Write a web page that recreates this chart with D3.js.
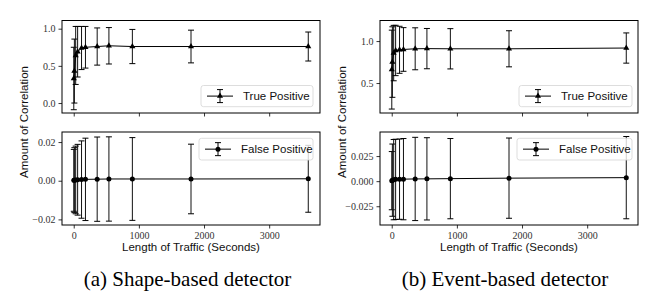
<!DOCTYPE html>
<html><head><meta charset="utf-8">
<script src="https://cdn.jsdelivr.net/npm/d3@7"></script>
<style>body{margin:0;background:#fff}svg{display:block}</style>
</head><body>
<svg id="c" width="660" height="300"></svg>
<script>
const lengths = [1, 10, 30, 60, 120, 180, 360, 540, 900, 1800, 3600];
const shapeTP = [0.33, 0.43, 0.64, 0.69, 0.74, 0.75, 0.76, 0.77, 0.76, 0.76, 0.76];
const shapeTPErr = [0.42, 0.43, 0.39, 0.34, 0.29, 0.28, 0.25, 0.245, 0.23, 0.22, 0.195];
const shapeFP = [0.0002, 0.0003, 0.0004, 0.0005, 0.0006, 0.0007, 0.0008, 0.0009, 0.0009, 0.0009, 0.0010];
const shapeFPErr = [0.016, 0.0168, 0.0175, 0.0183, 0.020, 0.0213, 0.0218, 0.0218, 0.0214, 0.018, 0.0173];
const eventTP = [0.66, 0.75, 0.857, 0.888, 0.896, 0.90, 0.908, 0.91, 0.908, 0.908, 0.917];
const eventTPErr = [0.47, 0.42, 0.33, 0.30, 0.28, 0.26, 0.25, 0.24, 0.24, 0.215, 0.18];
const eventFP = [0.0005, 0.001, 0.0015, 0.0018, 0.002, 0.002, 0.0022, 0.0023, 0.0025, 0.003, 0.0035];
const eventFPErr = [0.029, 0.036, 0.040, 0.040, 0.040, 0.0405, 0.0415, 0.041, 0.040, 0.040, 0.041];
const xTicks = [0, 1000, 2000, 3000];
const shapeTPTicks = [0.0, 0.5, 1.0];
const shapeFPTicks = [-0.02, 0.00, 0.02];
const eventTPTicks = [0.5, 1.0];
const eventFPTicks = [-0.025, 0.000, 0.025];
const captions = ["(a) Shape-based detector", "(b) Event-based detector"];
const legendLabels = ["True Positive", "False Positive"];
const xLabel = "Length of Traffic (Seconds)";
const yLabel = "Amount of Correlation";

const svg = d3.select("#c");
const SERIF = "'Liberation Serif','DejaVu Serif',serif";
const SANS = "'Liberation Sans','DejaVu Sans',sans-serif";
const minus = s => s.replace("-", "\u2212");

function marker(g, type, x, y) {
  if (type === "tri") {
    g.append("path").attr("d", d3.symbol(d3.symbolTriangle, 16)()).attr("transform", `translate(${x},${y})`).attr("fill", "#000");
  } else {
    g.append("circle").attr("cx", x).attr("cy", y).attr("r", 2.5).attr("fill", "#000");
  }
}

function panel(o) {
  const g = svg.append("g");
  const x = d3.scaleLinear().domain([-180, 3780]).range([o.x0, o.x1]);
  const y = d3.scaleLinear().domain(o.yDom).range([o.y1, o.y0]);
  const ay = g.append("g").attr("transform", `translate(${o.x0},0)`)
    .call(d3.axisLeft(y).tickValues(o.yTicks).tickSize(3.5).tickPadding(3).tickFormat(v => minus(d3.format(o.fmt)(v))));
  const ax = g.append("g").attr("transform", `translate(0,${o.y1})`)
    .call(d3.axisBottom(x).tickValues(xTicks).tickSize(3.5).tickPadding(3).tickFormat(o.showX ? d3.format("d") : ""));
  [ay, ax].forEach(a => {
    a.select(".domain").remove();
    a.selectAll("line").attr("stroke", "#000").attr("stroke-width", 0.8);
    a.selectAll("text").attr("font-family", SERIF).attr("font-size", 10).attr("fill", "#333");
  });
  const clip = "clip" + Math.random().toString(36).slice(2);
  g.append("clipPath").attr("id", clip).append("rect").attr("x", o.x0).attr("y", o.y0).attr("width", o.x1 - o.x0).attr("height", o.y1 - o.y0);
  const pg = g.append("g").attr("clip-path", `url(#${clip})`);
  lengths.forEach((L, i) => {
    const cx = x(L), lo = y(o.vals[i] - o.err[i]), hi = y(o.vals[i] + o.err[i]);
    pg.append("line").attr("x1", cx).attr("x2", cx).attr("y1", lo).attr("y2", hi).attr("stroke", "#111").attr("stroke-width", 1);
    [lo, hi].forEach(yy => pg.append("line").attr("x1", cx - 3).attr("x2", cx + 3).attr("y1", yy).attr("y2", yy).attr("stroke", "#000").attr("stroke-width", 1));
  });
  pg.append("path").datum(lengths.map((L, i) => [x(L), y(o.vals[i])]))
    .attr("d", d3.line()).attr("fill", "none").attr("stroke", "#000").attr("stroke-width", 1);
  lengths.forEach((L, i) => marker(pg, o.mark, x(L), y(o.vals[i])));
  g.append("rect").attr("x", o.x0).attr("y", o.y0).attr("width", o.x1 - o.x0).attr("height", o.y1 - o.y0)
    .attr("fill", "none").attr("stroke", "#000").attr("stroke-width", 1);
  const lg = o.leg;
  g.append("rect").attr("x", lg.x0).attr("y", lg.y0).attr("width", lg.x1 - lg.x0).attr("height", lg.y1 - lg.y0)
    .attr("rx", 2.5).attr("fill", "#fff").attr("fill-opacity", 0.8).attr("stroke", "#d4d4d4").attr("stroke-width", 0.8);
  const cy = (lg.y0 + lg.y1) / 2, hx = lg.x0 + 6, hw = 26, mx = hx + hw / 2;
  g.append("line").attr("x1", hx).attr("x2", hx + hw).attr("y1", cy).attr("y2", cy).attr("stroke", "#000").attr("stroke-width", 1);
  g.append("line").attr("x1", mx).attr("x2", mx).attr("y1", cy - 6.5).attr("y2", cy + 6.5).attr("stroke", "#000").attr("stroke-width", 1);
  [cy - 6.5, cy + 6.5].forEach(yy => g.append("line").attr("x1", mx - 3).attr("x2", mx + 3).attr("y1", yy).attr("y2", yy).attr("stroke", "#000").attr("stroke-width", 1));
  marker(g, o.mark, mx, cy);
  g.append("text").attr("x", hx + hw + 10).attr("y", cy + 4).attr("font-family", SANS).attr("font-size", 11.5).attr("fill", "#111").text(lg.label);
  return {x, y};
}

const layouts = [
  {x0: 62, x1: 320, tp: shapeTP, tpe: shapeTPErr, fp: shapeFP, fpe: shapeFPErr,
   tpDom: [-0.134, 1.11], tpTicks: shapeTPTicks, tpFmt: ".1f", fpDom: [-0.0229, 0.0252], fpTicks: shapeFPTicks, fpFmt: ".2f",
   legTP: {x0: 201, x1: 313}, legFP: {x0: 199, x1: 313}, ylx: 28, capx: 187.5, cap: captions[0]},
  {x0: 380, x1: 638, tp: eventTP, tpe: eventTPErr, fp: eventFP, fpe: eventFPErr,
   tpDom: [0.143, 1.245], tpTicks: eventTPTicks, tpFmt: ".1f", fpDom: [-0.0437, 0.049], fpTicks: eventFPTicks, fpFmt: ".3f",
   legTP: {x0: 519, x1: 632}, legFP: {x0: 517, x1: 632}, ylx: 346, capx: 505, cap: captions[1]}
];

layouts.forEach(L => {
  panel({x0: L.x0, x1: L.x1, y0: 20.5, y1: 113, yDom: L.tpDom, yTicks: L.tpTicks, fmt: L.tpFmt, vals: L.tp, err: L.tpe,
    mark: "tri", showX: false, leg: {x0: L.legTP.x0, x1: L.legTP.x1, y0: 85.5, y1: 106.7, label: legendLabels[0]}});
  panel({x0: L.x0, x1: L.x1, y0: 132, y1: 225, yDom: L.fpDom, yTicks: L.fpTicks, fmt: L.fpFmt, vals: L.fp, err: L.fpe,
    mark: "dot", showX: true, leg: {x0: L.legFP.x0, x1: L.legFP.x1, y0: 138.3, y1: 160, label: legendLabels[1]}});
  const cx = (L.x0 + L.x1) / 2;
  svg.append("text").attr("x", cx).attr("y", 251).attr("text-anchor", "middle").attr("font-family", SANS).attr("font-size", 11.5).attr("fill", "#111").text(xLabel);
  svg.append("text").attr("transform", `translate(${L.ylx},122) rotate(-90)`).attr("text-anchor", "middle").attr("font-family", SANS).attr("font-size", 11.5).attr("fill", "#111").text(yLabel);
  svg.append("text").attr("x", L.capx).attr("y", 286).attr("text-anchor", "middle").attr("font-family", SERIF).attr("font-size", 21).attr("fill", "#000").text(L.cap);
});
</script>
</body></html>
